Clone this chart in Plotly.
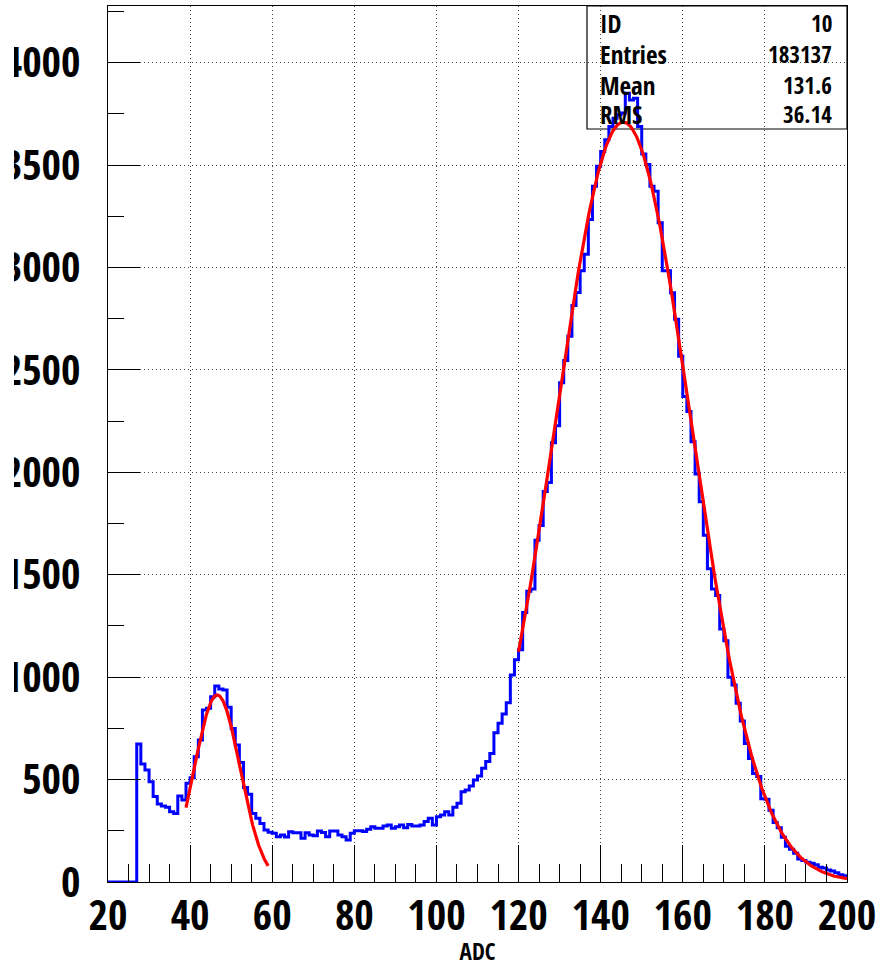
import numpy as np
import plotly.graph_objects as go

# ADC spectrum, 1-count-wide bins from 20 to 200
bin_low = 20
bin_high = 200
counts = [
    0, 0, 0, 0, 0, 0, 0, 674, 576, 547,            # 20-29
    490, 417, 381, 371, 365, 343, 335, 420, 400, 482,  # 30-39
    509, 612, 693, 840, 848, 905, 957, 942, 937, 853,  # 40-49
    750, 669, 583, 461, 428, 335, 311, 286, 254, 243,  # 50-59
    238, 221, 229, 220, 245, 240, 240, 213, 240, 229,  # 60-69
    226, 249, 242, 221, 249, 249, 229, 221, 205, 238,  # 70-79
    250, 250, 246, 257, 270, 262, 262, 273, 278, 262,  # 80-89
    270, 278, 265, 281, 273, 273, 278, 295, 311, 278,  # 90-99
    319, 327, 343, 327, 365, 384, 441, 449, 469, 498,  # 100-109
    517, 555, 588, 628, 729, 775, 820, 875, 1011, 1085,  # 110-119
    1134, 1316, 1419, 1430, 1668, 1740, 1907, 1951, 2144, 2228,  # 120-129
    2437, 2546, 2665, 2815, 2878, 2984, 3065, 3235, 3397, 3494,  # 130-139
    3567, 3624, 3689, 3729, 3746, 3754, 3851, 3818, 3827, 3689,  # 140-149
    3554, 3503, 3397, 3373, 3219, 2984, 2984, 2877, 2747, 2567,  # 150-159
    2371, 2297, 2150, 1992, 1856, 1693, 1529, 1431, 1399, 1235,  # 160-169
    1178, 1000, 962, 873, 786, 676, 603, 530, 515, 407,  # 170-179
    404, 350, 290, 265, 219, 175, 160, 140, 112, 105,  # 180-189
    96, 92, 84, 72, 68, 58, 54, 45, 36, 31,  # 190-199
]

# Gaussian fits: (constant, mean, sigma, range low, range high)
fit_peak1 = (913.0, 46.6, 5.6, 39.0, 59.0)
fit_peak2 = (3710.0, 145.5, 16.5, 120.0, 200.0)

# Statistics box
stat_names = ["ID", "Entries", "Mean", "RMS"]
stat_values = ["10", "183137", "131.6", "36.14"]

x_ticks = list(range(20, 201, 20))
y_ticks = list(range(0, 4001, 500))

FONT = "Open Sans Condensed, Roboto Condensed, Liberation Sans, sans-serif"

edges = list(range(bin_low, bin_high + 1))
step_y = counts + [counts[-1]]


def gauss_curve(params, n=300):
    c, mu, sig, lo, hi = params
    xs = np.linspace(lo, hi, n)
    return xs, c * np.exp(-0.5 * ((xs - mu) / sig) ** 2)


fig = go.Figure()

fig.add_trace(go.Scatter(
    x=edges, y=step_y, mode="lines", line_shape="hv",
    line=dict(color="#0000ff", width=3), showlegend=False, hoverinfo="skip",
))

for p in (fit_peak1, fit_peak2):
    fx, fy = gauss_curve(p)
    fig.add_trace(go.Scatter(
        x=fx, y=fy, mode="lines",
        line=dict(color="#ff0000", width=3.2), showlegend=False, hoverinfo="skip",
    ))

W, H = 883, 967
L, R, T, B = 108, 36, 6, 85
pw, ph = W - L - R, H - T - B


def px_x(px):
    return (px - L) / pw


def px_y(py):
    return (H - B - py) / ph


axis_common = dict(
    showline=True, linecolor="black", linewidth=1.2, mirror=True,
    ticks="inside", tickcolor="black", tickwidth=1,
    showgrid=True, gridcolor="#444444", gridwidth=1, griddash="1px,3px",
    zeroline=False, automargin=False,
    tickfont=dict(family=FONT, size=42, color="black", weight="bold"),
)

fig.update_xaxes(
    range=[bin_low, bin_high], tickvals=x_ticks, ticklen=37,
    minor=dict(ticks="inside", ticklen=18, dtick=5, tickcolor="black", showgrid=False),
    ticklabelstandoff=-4,
    title=dict(text="ADC", font=dict(family=FONT, size=23, color="black", weight="bold"), standoff=10),
    **axis_common,
)
fig.update_yaxes(
    range=[0, 4277], tickvals=y_ticks, ticklen=32,
    minor=dict(ticks="inside", ticklen=16, dtick=250, tickcolor="black", showgrid=False),
    ticklabelstandoff=18,
    **axis_common,
)

# statistics box frame
fig.add_shape(type="rect", xref="paper", yref="paper",
              x0=px_x(587), x1=1.0, y0=px_y(129), y1=1.0,
              line=dict(color="black", width=1.2), fillcolor="rgba(0,0,0,0)", layer="below")

# left page edge cuts the leading digit of the y labels
fig.add_shape(type="rect", xref="paper", yref="paper",
              x0=px_x(-5), x1=px_x(14), y0=px_y(30), y1=px_y(700),
              line=dict(width=0), fillcolor="white", layer="above")

row_y = [23.5, 54, 85, 114]
for name, val, ry in zip(stat_names, stat_values, row_y):
    fig.add_annotation(xref="paper", yref="paper", x=px_x(598), y=px_y(ry),
                       text=name, showarrow=False, xanchor="left", yanchor="middle",
                       font=dict(family=FONT, size=25, color="black", weight="bold"))
    fig.add_annotation(xref="paper", yref="paper", x=px_x(834), y=px_y(ry),
                       text=val, showarrow=False, xanchor="right", yanchor="middle",
                       font=dict(family=FONT, size=23, color="black", weight="bold"))

fig.update_layout(
    width=W, height=H,
    margin=dict(l=L, r=R, t=T, b=B, pad=0),
    paper_bgcolor="white", plot_bgcolor="white",
    showlegend=False,
)

fig.write_html("out.html")
